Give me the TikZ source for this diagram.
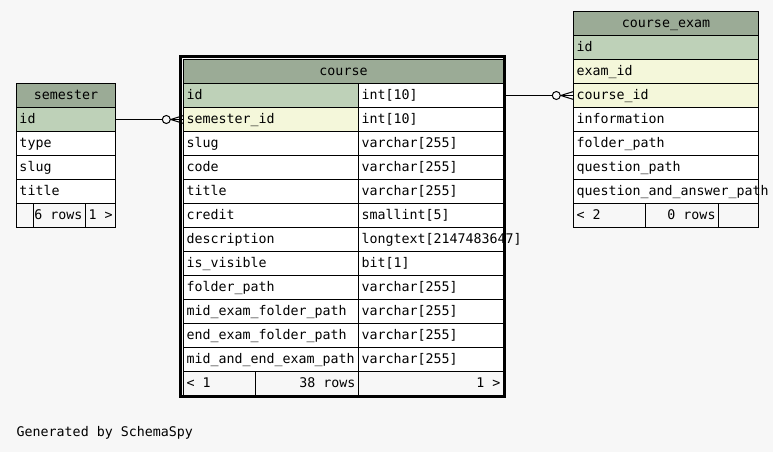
\documentclass[tikz,border=0pt]{standalone}
\usepackage{fontspec}
\setmonofont{DejaVu Sans Mono}
\usetikzlibrary{calc}
\definecolor{bg}{HTML}{F7F7F7}
\definecolor{headc}{HTML}{9BAB96}
\definecolor{pkc}{HTML}{BED1B8}
\definecolor{idxc}{HTML}{F4F7DA}
\tikzset{
  cellbox/.style={draw=black, line width=1pt, inner xsep=3pt, inner ysep=0pt,
    text height=11pt, text depth=3pt, font=\fontsize{13.3}{16}\selectfont\ttfamily},
  conn/.style={draw=black, line width=1pt},
  thickborder/.style={draw=black, line width=3pt},
  plaintext/.style={inner sep=0pt, font=\fontsize{13.3}{16}\selectfont\ttfamily}
}
% name, x1, y1, x2, y2, fill, align, text
\newcommand{\tcell}[8]{%
  \node[cellbox, fill=#6, minimum width={#4-#2}, minimum height={#5-#3}] (#1)
    at ({(#2+#4)/2},{(#3+#5)/2}) {\makebox[\dimexpr #4pt-#2pt-6pt\relax][#7]{#8}};%
}
% crow's foot with circle at the west side of a node
\newcommand{\crowfoot}[1]{%
  \draw[conn] ($(#1.west)+(-12.3,0)$) -- ($(#1.west)+(0,-3.8)$)
              ($(#1.west)+(-12.3,0)$) -- ($(#1.west)+(0,3.8)$);
  \draw[conn, fill=bg] ($(#1.west)+(-16.7,0)$) circle[radius=4];
}
\begin{document}
\begin{tikzpicture}[x=1pt,y=-1pt]
\useasboundingbox (0,0) rectangle (773,452);
\fill[bg] (0,0) rectangle (773,452);

% ---------------- semester ----------------
\tcell{s-h}{16.5}{83.5}{115.5}{107.5}{headc}{c}{semester}
\tcell{s-1}{16.5}{107.5}{115.5}{131.5}{pkc}{l}{id}
\tcell{s-2}{16.5}{131.5}{115.5}{155.5}{white}{l}{type}
\tcell{s-3}{16.5}{155.5}{115.5}{179.5}{white}{l}{slug}
\tcell{s-4}{16.5}{179.5}{115.5}{203.5}{white}{l}{title}
\tcell{s-f1}{16.5}{203.5}{33.5}{227.5}{bg}{l}{}
\tcell{s-f2}{33.5}{203.5}{85.5}{227.5}{bg}{r}{6 rows}
\tcell{s-f3}{85.5}{203.5}{115.5}{227.5}{bg}{l}{1 >}

% ---------------- course ----------------
\tcell{c-h}{183.5}{59.5}{503.5}{83.5}{headc}{c}{course}
\tcell{c-1a}{183.5}{83.5}{358.5}{107.5}{pkc}{l}{id}
\tcell{c-1b}{358.5}{83.5}{503.5}{107.5}{white}{l}{int[10]}
\tcell{c-2a}{183.5}{107.5}{358.5}{131.5}{idxc}{l}{semester\_id}
\tcell{c-2b}{358.5}{107.5}{503.5}{131.5}{white}{l}{int[10]}
\tcell{c-3a}{183.5}{131.5}{358.5}{155.5}{white}{l}{slug}
\tcell{c-3b}{358.5}{131.5}{503.5}{155.5}{white}{l}{varchar[255]}
\tcell{c-4a}{183.5}{155.5}{358.5}{179.5}{white}{l}{code}
\tcell{c-4b}{358.5}{155.5}{503.5}{179.5}{white}{l}{varchar[255]}
\tcell{c-5a}{183.5}{179.5}{358.5}{203.5}{white}{l}{title}
\tcell{c-5b}{358.5}{179.5}{503.5}{203.5}{white}{l}{varchar[255]}
\tcell{c-6a}{183.5}{203.5}{358.5}{227.5}{white}{l}{credit}
\tcell{c-6b}{358.5}{203.5}{503.5}{227.5}{white}{l}{smallint[5]}
\tcell{c-7a}{183.5}{227.5}{358.5}{251.5}{white}{l}{description}
\tcell{c-7b}{358.5}{227.5}{503.5}{251.5}{white}{l}{longtext[2147483647]}
\tcell{c-8a}{183.5}{251.5}{358.5}{275.5}{white}{l}{is\_visible}
\tcell{c-8b}{358.5}{251.5}{503.5}{275.5}{white}{l}{bit[1]}
\tcell{c-9a}{183.5}{275.5}{358.5}{299.5}{white}{l}{folder\_path}
\tcell{c-9b}{358.5}{275.5}{503.5}{299.5}{white}{l}{varchar[255]}
\tcell{c-10a}{183.5}{299.5}{358.5}{323.5}{white}{l}{mid\_exam\_folder\_path}
\tcell{c-10b}{358.5}{299.5}{503.5}{323.5}{white}{l}{varchar[255]}
\tcell{c-11a}{183.5}{323.5}{358.5}{347.5}{white}{l}{end\_exam\_folder\_path}
\tcell{c-11b}{358.5}{323.5}{503.5}{347.5}{white}{l}{varchar[255]}
\tcell{c-12a}{183.5}{347.5}{358.5}{371.5}{white}{l}{mid\_and\_end\_exam\_path}
\tcell{c-12b}{358.5}{347.5}{503.5}{371.5}{white}{l}{varchar[255]}
\tcell{c-f1}{183.5}{371.5}{255.5}{395.5}{bg}{l}{< 1}
\tcell{c-f2}{255.5}{371.5}{358.5}{395.5}{bg}{r}{38 rows}
\tcell{c-f3}{358.5}{371.5}{503.5}{395.5}{bg}{r}{1 >}
\draw[thickborder] (180.8,56.3) rectangle (504.8,396);

% ---------------- course_exam ----------------
\tcell{e-h}{573.5}{11.5}{758.5}{35.5}{headc}{c}{course\_exam}
\tcell{e-1}{573.5}{35.5}{758.5}{59.5}{pkc}{l}{id}
\tcell{e-2}{573.5}{59.5}{758.5}{83.5}{idxc}{l}{exam\_id}
\tcell{e-3}{573.5}{83.5}{758.5}{107.5}{idxc}{l}{course\_id}
\tcell{e-4}{573.5}{107.5}{758.5}{131.5}{white}{l}{information}
\tcell{e-5}{573.5}{131.5}{758.5}{155.5}{white}{l}{folder\_path}
\tcell{e-6}{573.5}{155.5}{758.5}{179.5}{white}{l}{question\_path}
\tcell{e-7}{573.5}{179.5}{758.5}{203.5}{white}{l}{question\_and\_answer\_path}
\tcell{e-f1}{573.5}{203.5}{645.5}{227.5}{bg}{l}{< 2}
\tcell{e-f2}{645.5}{203.5}{718.5}{227.5}{bg}{r}{0 rows}
\tcell{e-f3}{718.5}{203.5}{758.5}{227.5}{bg}{l}{}

% ---------------- connectors ----------------
\draw[conn] (s-1.east) -- (c-2a.west);
\crowfoot{c-2a}
\draw[conn] (c-1b.east) -- (e-3.west);
\crowfoot{e-3}
\draw[thickborder] (180.8,56.3) -- (180.8,396);

% ---------------- footer ----------------
\node[plaintext, anchor=west] (gen) at (16.5,433) {Generated by SchemaSpy};
\end{tikzpicture}
\end{document}
